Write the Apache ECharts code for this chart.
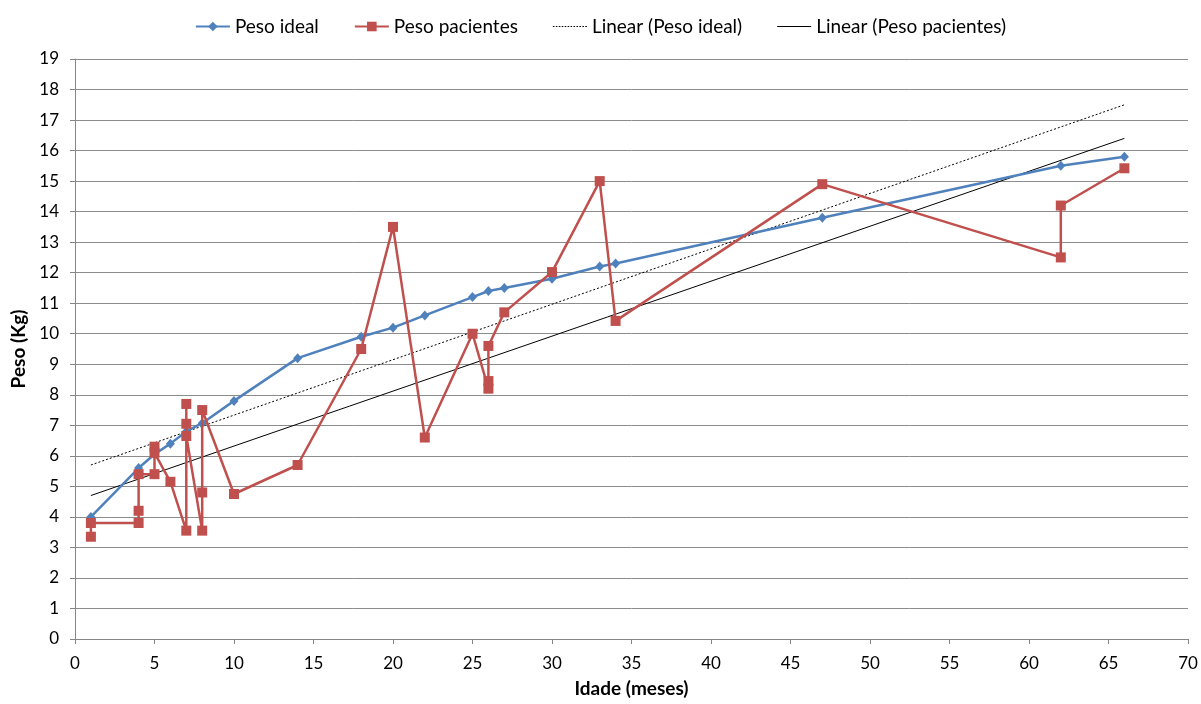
<!DOCTYPE html>
<html>
<head>
<meta charset="utf-8">
<script src="https://cdn.jsdelivr.net/npm/echarts@6/dist/echarts.min.js"></script>
<style>
html,body{margin:0;padding:0;background:#fff;}
#chart{width:1201px;height:704px;}
</style>
</head>
<body>
<div id="chart"></div>
<script>
// Peso ideal (age in months, weight kg)
const idealAge = [1, 4, 5, 6, 7, 8, 10, 14, 18, 20, 22, 25, 26, 27, 30, 33, 34, 47, 62, 66];
const idealWeight = [4.0, 5.6, 6.05, 6.4, 6.8, 7.07, 7.8, 9.2, 9.9, 10.2, 10.6, 11.2, 11.4, 11.5, 11.8, 12.2, 12.3, 13.8, 15.5, 15.8];

// Peso pacientes
const patAge = [1, 1, 4, 4, 4, 5, 5, 5, 6, 7, 7, 7, 7, 8, 8, 8, 10, 14, 18, 20, 22, 25, 26, 26, 26, 27, 30, 33, 34, 47, 62, 62, 66];
const patWeight = [3.35, 3.8, 3.8, 4.2, 5.4, 5.4, 6.3, 6.1, 5.15, 3.55, 7.7, 7.05, 6.65, 3.55, 4.8, 7.5, 4.75, 5.7, 9.5, 13.5, 6.6, 10.0, 8.2, 8.45, 9.6, 10.7, 12.02, 15.0, 10.42, 14.9, 12.5, 14.2, 15.42];

// Linear trend lines (endpoints)
const trendIdealAge = [1, 66];
const trendIdealWeight = [5.7, 17.5];
const trendPatAge = [1, 66];
const trendPatWeight = [4.7, 16.4];

const xTicks = {min: 0, max: 70, interval: 5};
const yTicks = {min: 0, max: 19, interval: 1};

const zip = (a, b) => a.map((v, i) => [v, b[i]]);
const FONT = 'Lato, "Open Sans", sans-serif';

// legend icons for the trend lines: thin solid / dotted bars
let dotted = 'path://';
for (let i = 0; i < 34; i += 3) dotted += 'M' + i + ',0h1.6v1h-1.6z';
const solid = 'path://M0,0h34v1h-34z';

const chart = echarts.init(document.getElementById('chart'), null, {renderer: 'canvas'});
chart.setOption({
  animation: false,
  backgroundColor: '#fff',
  legend: {
    top: 12,
    left: 'center',
    itemWidth: 34,
    itemHeight: 12,
    itemGap: 35,
    textStyle: {fontFamily: FONT, fontSize: 19, color: '#000'},
    data: [
      'Peso ideal',
      'Peso pacientes',
      {name: 'Linear (Peso ideal)', icon: dotted, itemStyle: {color: '#000', borderWidth: 0}},
      {name: 'Linear (Peso pacientes)', icon: solid, itemStyle: {color: '#000', borderWidth: 0}}
    ]
  },
  grid: {left: 75, right: 13, top: 59, bottom: 65, containLabel: false, outerBoundsMode: 'none'},
  xAxis: {
    type: 'value',
    min: xTicks.min, max: xTicks.max, interval: xTicks.interval,
    name: 'Idade (meses)',
    nameLocation: 'middle',
    nameGap: 40,
    nameTextStyle: {fontFamily: FONT, fontSize: 19, fontWeight: 'bold', color: '#000'},
    axisLine: {show: true, lineStyle: {color: '#868686', width: 1}},
    axisTick: {show: true, length: 5, lineStyle: {color: '#868686'}},
    axisLabel: {fontFamily: FONT, fontSize: 17, color: '#000', margin: 16},
    splitLine: {show: false}
  },
  yAxis: {
    type: 'value',
    min: yTicks.min, max: yTicks.max, interval: yTicks.interval,
    name: 'Peso (Kg)',
    nameLocation: 'middle',
    nameGap: 47,
    nameRotate: 90,
    nameTextStyle: {fontFamily: FONT, fontSize: 19, fontWeight: 'bold', color: '#000'},
    axisLine: {show: true, lineStyle: {color: '#868686', width: 1}},
    axisTick: {show: true, length: 5, lineStyle: {color: '#868686'}},
    axisLabel: {fontFamily: FONT, fontSize: 17, color: '#000', margin: 16},
    splitLine: {show: true, lineStyle: {color: '#8c8c8c', width: 1}}
  },
  series: [
    {
      name: 'Linear (Peso ideal)',
      type: 'line',
      data: zip(trendIdealAge, trendIdealWeight),
      symbol: 'none',
      lineStyle: {color: '#000', width: 1, type: [2, 2]},
      itemStyle: {color: '#000'},
      z: 3
    },
    {
      name: 'Linear (Peso pacientes)',
      type: 'line',
      data: zip(trendPatAge, trendPatWeight),
      symbol: 'none',
      lineStyle: {color: '#000', width: 1},
      itemStyle: {color: '#000'},
      z: 3
    },
    {
      name: 'Peso ideal',
      type: 'line',
      data: zip(idealAge, idealWeight),
      symbol: 'diamond',
      symbolSize: [9, 10],
      lineStyle: {color: '#4F81BD', width: 2.5},
      itemStyle: {color: '#4F81BD'},
      z: 4
    },
    {
      name: 'Peso pacientes',
      type: 'line',
      data: zip(patAge, patWeight),
      symbol: 'rect',
      symbolSize: 10,
      lineStyle: {color: '#C0504D', width: 2.5},
      itemStyle: {color: '#C0504D'},
      z: 5
    }
  ]
});
</script>
</body>
</html>
